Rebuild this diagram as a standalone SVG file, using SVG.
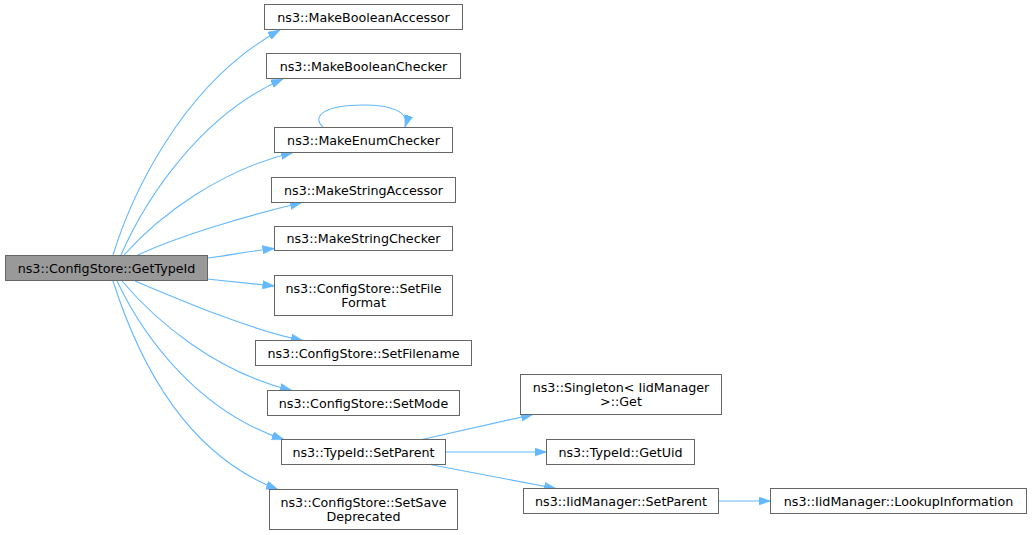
<svg xmlns="http://www.w3.org/2000/svg" width="1032" height="535" viewBox="0 0 1032 535">
<style>
.n rect{fill:#ffffff;stroke:#666666;stroke-width:1}
.root rect{fill:#999999;stroke:#666666;stroke-width:1}
text{font-family:"DejaVu Sans","Liberation Sans",sans-serif;font-size:12.7px;fill:#000000;text-anchor:middle}
.e path{fill:none;stroke:#63b8ff;stroke-width:1.1;marker-end:url(#ah)}
</style>
<defs>
<marker id="ah" markerUnits="userSpaceOnUse" markerWidth="12" markerHeight="9" refX="12" refY="4.5" orient="auto" viewBox="0 0 12 9">
<path d="M0,0.3 L12,4.5 L0,8.7 z" fill="#63b8ff" stroke="#63b8ff" stroke-width="0.5"/>
</marker>
</defs>
<rect width="1032" height="535" fill="#ffffff"/>
<g id="edges" class="e">
<path d="M113,255 C130,200 180,85 280,30"/>
<path d="M121,255 C145,200 200,115 283,79"/>
<path d="M124,255 C160,215 220,170 293,152.5"/>
<path d="M138,255 C180,235 250,215 302,202.5"/>
<path d="M207,258 C225,256 250,251 274.5,248.5"/>
<path d="M207,279 L274.5,286"/>
<path d="M135,281 C180,300 250,330 303,340.5"/>
<path d="M122,281 C155,320 215,372 292,390.5"/>
<path d="M117,281 C145,340 200,412 284,439.5"/>
<path d="M113,281 C135,350 180,452 278,489.5"/>
<path d="M323,127 C311,116 325,105 363,105 C392,105 410,112 405,127"/>
<path d="M422,439.5 L533,414.5"/>
<path d="M446,452 L546.5,452"/>
<path d="M430,464.5 L556,488.5"/>
<path d="M719,501 L770.5,501"/>
</g>
<g id="root" class="root"><rect x="5.5" y="255.5" width="202" height="25"/><text x="106.5" y="272.7">ns3::ConfigStore::GetTypeId</text></g>
<g id="n1" class="n"><rect x="264.5" y="4.5" width="198" height="25"/><text x="363.5" y="21.7">ns3::MakeBooleanAccessor</text></g>
<g id="n2" class="n"><rect x="266.5" y="53.5" width="194" height="25"/><text x="363.5" y="70.7">ns3::MakeBooleanChecker</text></g>
<g id="n3" class="n"><rect x="274.5" y="127.5" width="178" height="25"/><text x="363.5" y="144.7">ns3::MakeEnumChecker</text></g>
<g id="n4" class="n"><rect x="271.5" y="177.5" width="184" height="25"/><text x="363.5" y="194.7">ns3::MakeStringAccessor</text></g>
<g id="n5" class="n"><rect x="274.5" y="226.5" width="178" height="24"/><text x="363.5" y="243.4">ns3::MakeStringChecker</text></g>
<g id="n6" class="n"><rect x="274.5" y="275.5" width="178" height="40"/><text x="363.5" y="293.1">ns3::ConfigStore::SetFile</text><text x="363.5" y="307.1">Format</text></g>
<g id="n7" class="n"><rect x="255.5" y="340.5" width="216" height="25"/><text x="363.5" y="357.7">ns3::ConfigStore::SetFilename</text></g>
<g id="n8" class="n"><rect x="267.5" y="390.5" width="192" height="25"/><text x="363.5" y="407.7">ns3::ConfigStore::SetMode</text></g>
<g id="n9" class="n"><rect x="281.5" y="439.5" width="164" height="25"/><text x="363.5" y="456.7">ns3::TypeId::SetParent</text></g>
<g id="n10" class="n"><rect x="269.5" y="489.5" width="188" height="40"/><text x="363.5" y="507.1">ns3::ConfigStore::SetSave</text><text x="363.5" y="521.1">Deprecated</text></g>
<g id="n11" class="n"><rect x="520.5" y="374.5" width="201" height="40"/><text x="621" y="392.1">ns3::Singleton&lt; IidManager</text><text x="621" y="406.1">&gt;::Get</text></g>
<g id="n12" class="n"><rect x="546.5" y="439.5" width="148" height="25"/><text x="620.5" y="456.7">ns3::TypeId::GetUid</text></g>
<g id="n13" class="n"><rect x="523.5" y="488.5" width="195" height="25"/><text x="621" y="505.7">ns3::IidManager::SetParent</text></g>
<g id="n14" class="n"><rect x="770.5" y="488.5" width="256" height="25"/><text x="898.5" y="505.7">ns3::IidManager::LookupInformation</text></g>
</svg>
